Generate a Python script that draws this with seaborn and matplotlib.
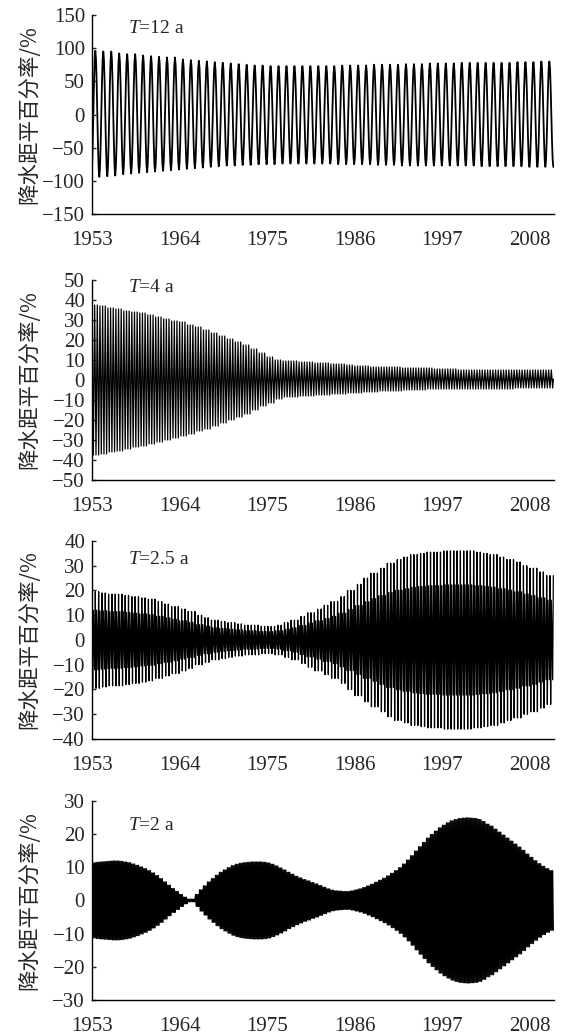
import numpy as np
import pandas as pd
import matplotlib
matplotlib.use('Agg')
import matplotlib.pyplot as plt
import seaborn as sns

# monthly reconstructed series, Jan 1953 - Dec 2010
years = list(range(1953, 2011))

# T=12 a: yearly peak / trough of the curve (%)
t12_upper = [96, 95, 95, 92, 91, 91, 89, 88, 87, 86, 86, 83, 82, 81, 80, 79,
             78, 77, 76, 75, 74, 74, 73, 73, 73, 73, 73, 73, 73, 73, 73, 74, 74,
             74, 74, 75, 75, 75, 75, 76, 76, 76, 77, 77, 77, 77, 78, 78, 78, 78,
             78, 78, 78, 79, 79, 79, 80, 80]
t12_lower = [-94, -93, -92, -90, -89, -88, -87, -86, -85, -84, -83, -82, -81, -80, -79, -78,
             -77, -77, -76, -76, -75, -75, -75, -74, -74, -74, -74, -74, -74, -74, -75, -75, -75,
             -75, -75, -76, -76, -76, -77, -77, -77, -77, -77, -77, -77, -77, -77, -77, -78,
             -78, -78, -78, -78, -78, -79, -79, -79, -79]

# T=4 a
t4_upper = [37.5, 37, 36, 35.5, 34.5, 34, 33.5, 32.5, 31.5, 30.5,
            29.5, 29, 27.5, 26.5, 25, 23.5, 22, 20.5, 19, 17.5,
            15.5, 13.5, 11.5, 10, 9.5, 9.5, 9, 9, 8.5, 8.5,
            8, 8, 7.5, 7, 7, 6.5, 6.5, 6.5, 6.5, 6,
            6, 6, 6, 5.5, 5.5, 5.5, 5, 5, 5, 5,
            5, 5, 5, 5, 5, 5, 5, 5]
t4_lower = [-37.5, -37, -36, -35.5, -34.5, -33.5, -33, -32, -31, -30,
            -29, -28, -27, -25.5, -24.5, -23, -21.5, -20, -18.5, -17,
            -15, -13, -11.5, -9.5, -8.5, -8.5, -8, -8, -7.5, -7.5,
            -7, -7, -6.5, -6.5, -6, -6, -5.5, -5.5, -5.5, -5,
            -5, -5, -4.5, -4.5, -4.5, -4.5, -4.5, -4.5, -4.5, -4.5,
            -4.5, -4.5, -4.5, -4, -4, -4, -4, -4]

# T=2.5 a: outer spike height per year (symmetric)
t25_amp = [19.5, 19, 18.5, 18.5, 18, 17.5, 17, 16.5, 15.5, 14.5,
           13.5, 12.5, 11.5, 10, 9, 8, 7.5, 7, 6.5, 6,
           6, 5.5, 5.5, 6, 7, 8, 9.5, 11, 12.5, 14,
           15.5, 17.5, 20, 22.5, 25, 27, 29, 31, 32.5, 33.5,
           34.5, 35, 35.5, 35.5, 36, 36, 36, 36, 35.5, 35,
           34.5, 33.5, 32.5, 31.5, 30, 29, 27.5, 26]

# T=2 a: envelope per half year (symmetric), one row per year
t2_amp = [11.3, 11.5, 11.6, 11.7, 11.8, 11.9, 11.9, 11.8, 11.6, 11.4,   # 1953-57
          11.0, 10.6, 10.1, 9.6, 9.0, 8.3, 7.5, 6.6, 5.6, 4.6,          # 1958-62
          3.6, 2.7, 1.8, 1.0, 0.4, 0.4, 1.8, 3.2, 4.4, 5.6,             # 1963-67
          6.6, 7.6, 8.5, 9.2, 9.9, 10.5, 10.9, 11.2, 11.4, 11.5,        # 1968-72
          11.6, 11.6, 11.6, 11.5, 11.3, 10.9, 10.4, 9.8, 9.2, 8.5,      # 1973-77
          7.9, 7.3, 6.8, 6.3, 5.9, 5.4, 5.0, 4.5, 4.0, 3.5,             # 1978-82
          3.1, 2.9, 2.8, 2.7, 2.7, 2.9, 3.2, 3.5, 3.9, 4.4,             # 1983-87
          4.9, 5.5, 6.1, 6.7, 7.4, 8.2, 9.0, 9.9, 11.0, 12.2,           # 1988-92
          13.5, 14.9, 16.2, 17.5, 18.8, 19.9, 20.9, 21.9, 22.7, 23.4,   # 1993-97
          24.0, 24.4, 24.7, 24.8, 24.9, 24.8, 24.7, 24.4, 23.8, 23.0,   # 1998-02
          22.4, 21.5, 20.6, 19.7, 18.8, 17.9, 17.0, 16.1, 15.1, 14.0,   # 2003-07
          13.0, 12.0, 11.1, 10.3, 9.6, 9.0]                             # 2008-10

periods = [12, 4, 2.5, 2]          # months per cycle
phase = [5, 0, -0.125, 0]          # month of first crest
labels = ['12', '4', '2.5', '2']
ylims = [150, 50, 40, 30]
ysteps = [50, 10, 10, 10]
xticks = [1953, 1964, 1975, 1986, 1997, 2008]

months = np.arange(len(years) * 12)
t = 1953 + months / 12


def series(upper, lower, period, m0):
    # envelope values hold for 12 (yearly) or 6 (half-yearly) months each
    k = len(months) // len(upper)
    up = np.repeat(np.array(upper, float), k)
    lo = np.repeat(np.array(lower, float), k)
    c = np.cos(2 * np.pi * (months - m0) / period)
    c = c / np.abs(c).max()
    return (up + lo) / 2 + (up - lo) / 2 * c


sns.set_style('ticks')
plt.rcParams['font.family'] = ['Liberation Serif', 'DejaVu Sans']
plt.rcParams['mathtext.fontset'] = 'custom'
plt.rcParams['mathtext.rm'] = 'Liberation Serif'
plt.rcParams['mathtext.it'] = 'Liberation Serif:italic'

envs = [(t12_upper, t12_lower), (t4_upper, t4_lower),
        (t25_amp, [-a for a in t25_amp]), (t2_amp, [-a for a in t2_amp])]

fig = plt.figure(figsize=(5.61, 10.34), dpi=100)
boxes = [(0.164, 0.7930, 0.8235, 0.1925),
         (0.164, 0.5358, 0.8235, 0.1934),
         (0.164, 0.2853, 0.8235, 0.1915),
         (0.164, 0.0329, 0.8235, 0.1925)]
label_y = [0.93, 0.965, 0.904, 0.875]
lws = [1.3, 0.9, 0.9, 0.9]

for i in range(4):
    ax = fig.add_axes(boxes[i])
    df = pd.DataFrame({'year': t, 'value': series(envs[i][0], envs[i][1], periods[i], phase[i])})
    sns.lineplot(data=df, x='year', y='value', ax=ax, color='black', linewidth=lws[i])
    ax.set_xlim(1953, 2011)
    ax.set_ylim(-ylims[i], ylims[i])
    ax.set_yticks(np.arange(-ylims[i], ylims[i] + 1, ysteps[i]))
    ax.set_xticks(xticks)
    ax.tick_params(axis='y', direction='in', length=3, width=1, labelsize=15, pad=5)
    ax.tick_params(axis='x', length=0, labelsize=15, pad=12)
    ax.set_xlabel('')
    ax.set_ylabel('降水距平百分率/%', fontsize=15.5,
                  family=['Noto Sans CJK SC', 'DejaVu Sans'])
    ax.yaxis.set_label_coords(-0.112, 0.5)
    sns.despine(ax=ax)
    for s in ['left', 'bottom']:
        ax.spines[s].set_color('black')
        ax.spines[s].set_linewidth(1)
    ax.text(0.078, label_y[i], '$T$=' + labels[i] + ' a', transform=ax.transAxes,
            fontsize=14, ha='left', va='center')

fig.savefig('out.png', dpi=100)
